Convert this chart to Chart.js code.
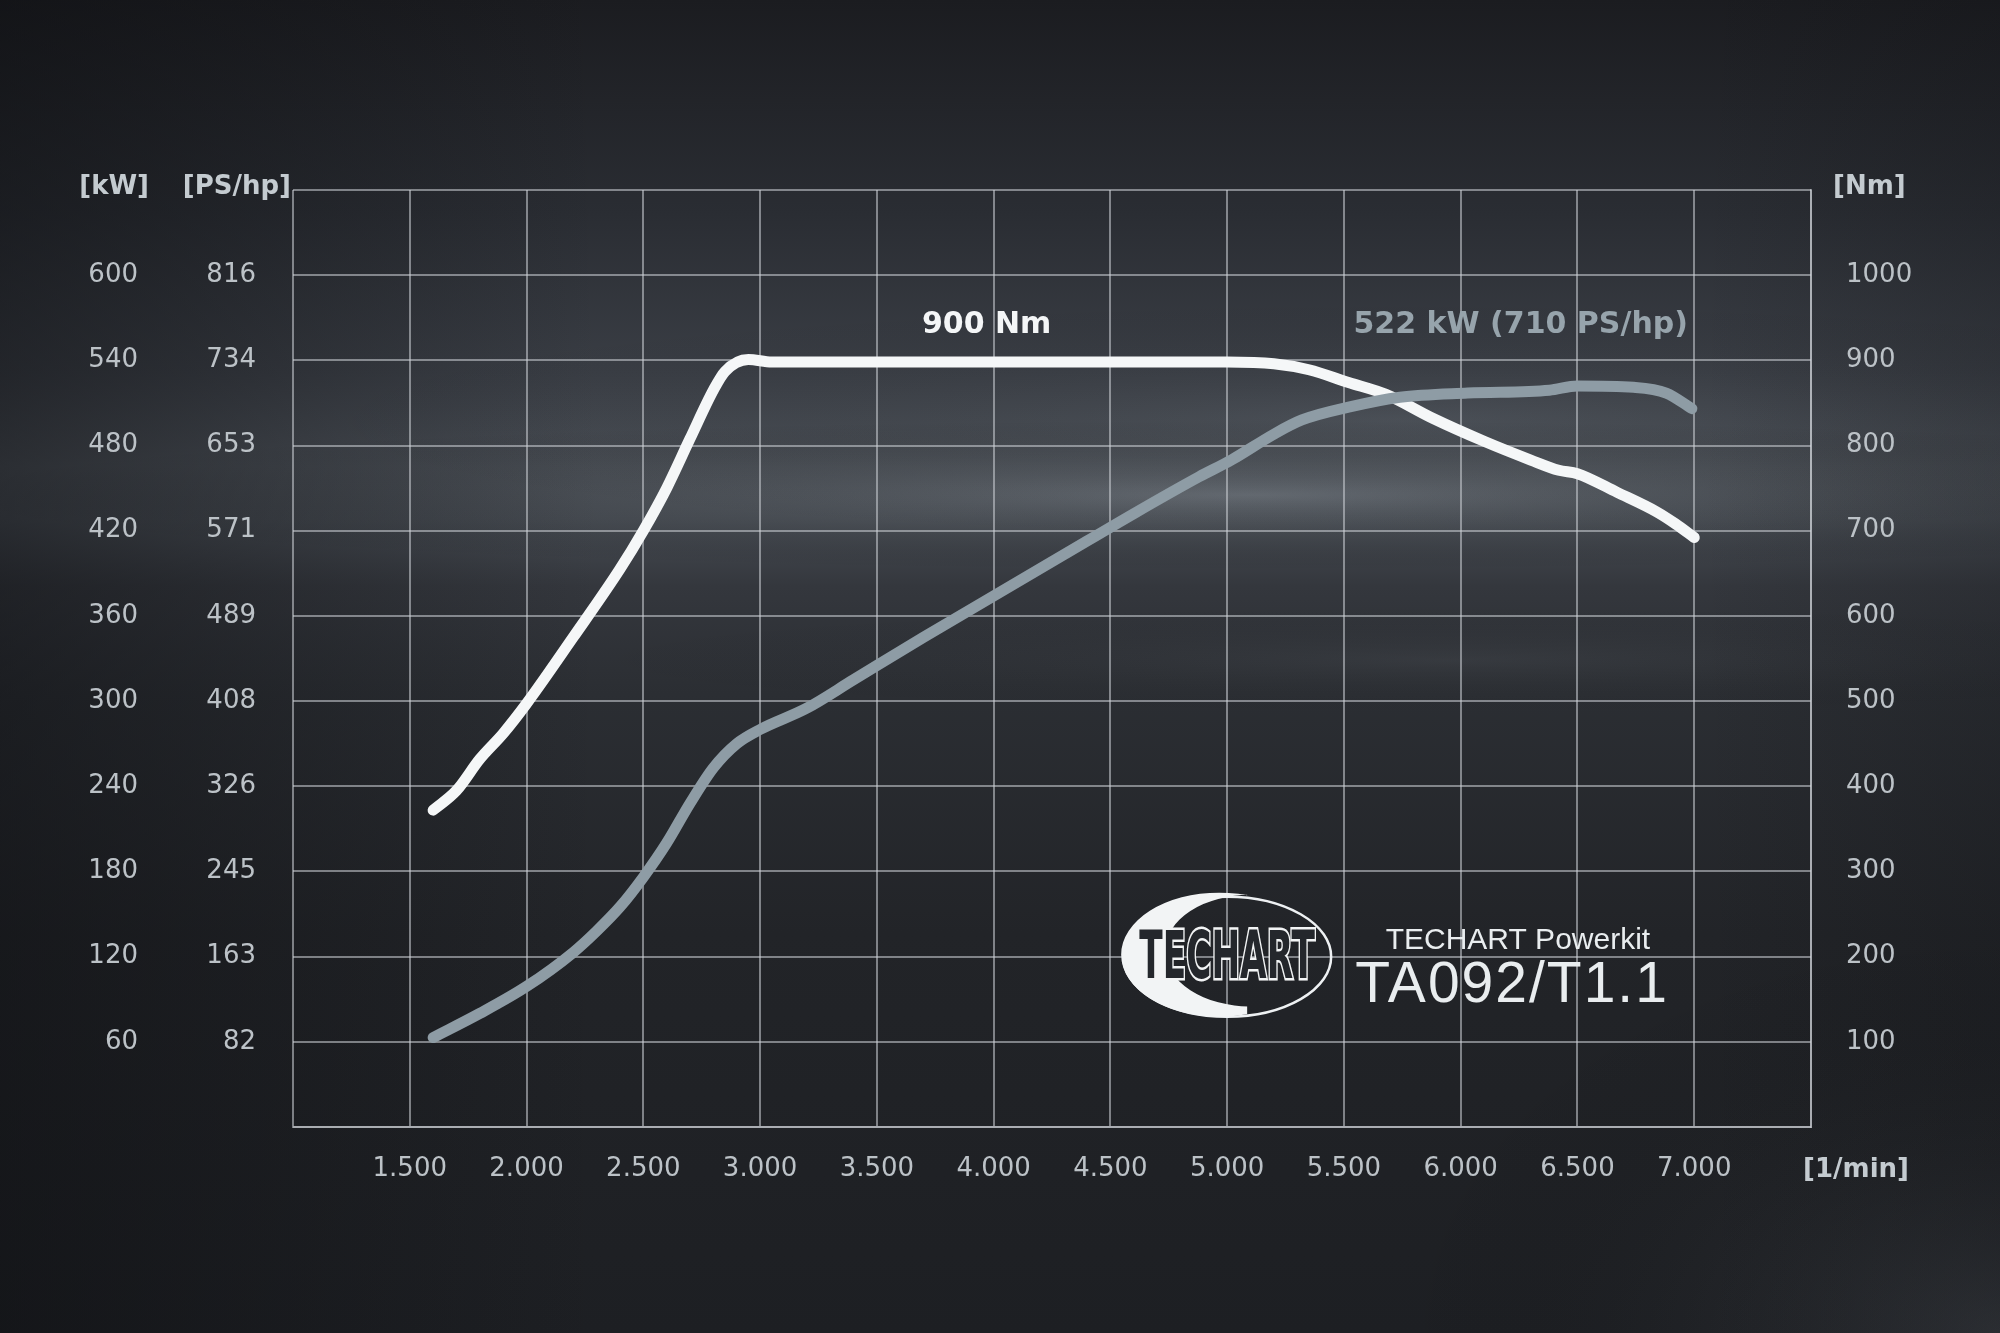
<!DOCTYPE html>
<html>
<head>
<meta charset="utf-8">
<script src="https://cdn.jsdelivr.net/npm/chart.js@4.4.0/dist/chart.umd.min.js"></script>
<style>
  html, body { margin: 0; padding: 0; background: #1e2024; overflow: hidden; }
  canvas { display: block; }
</style>
</head>
<body>
<canvas id="dyno" width="2000" height="1333"></canvas>
<script>
// engine speed [1/min] and torque [Nm]
var torqueRpm = [1600, 1700, 1800, 1900, 2000, 2200, 2400, 2500, 2600, 2700, 2800, 2850, 2950, 3050, 3500, 4000, 4500, 5000, 5200, 5350, 5520, 5680, 5880, 6100, 6300, 6420, 6500, 6670, 6840, 6920, 7000];
var torqueNm = [372, 395, 432, 462, 497, 575, 655, 700, 750, 808, 865, 887, 901, 898, 898, 898, 898, 898, 896, 889, 874, 860, 832, 805, 783, 771, 767, 745, 722, 708, 692];

// engine speed [1/min] and power [kW]
var powerRpm = [1600, 1800, 2000, 2200, 2300, 2400, 2500, 2600, 2700, 2800, 2900, 3000, 3200, 3400, 3700, 4000, 4300, 4600, 4880, 5020, 5200, 5320, 5520, 5740, 6030, 6380, 6500, 6740, 6880, 6990];
var powerKw = [63, 80, 99, 123, 138, 155, 176, 200, 228, 253, 270, 280, 295, 315, 345, 374, 403, 432, 458, 470, 488, 498, 507, 514, 517, 519, 522, 521, 517, 506];

// tick labels
var rpmLabels = ["1.500", "2.000", "2.500", "3.000", "3.500", "4.000", "4.500", "5.000", "5.500", "6.000", "6.500", "7.000"];
var kwLabels = ["60", "120", "180", "240", "300", "360", "420", "480", "540", "600"];
var psLabels = ["82", "163", "245", "326", "408", "489", "571", "653", "734", "816"];
var nmLabels = ["100", "200", "300", "400", "500", "600", "700", "800", "900", "1000"];

var gridColor = "rgba(205,210,215,0.55)";
var tickColor = "#bcc2c7";
var tickFont = { family: "DejaVu Sans", size: 26 };

function pts(xs, ys) {
    return xs.map(function (x, i) { return { x: x, y: ys[i] }; });
}

// soft horizontal streak, drawn as a squashed radial gradient
function streak(ctx, cx, cy, rx, ry, color) {
    ctx.save();
    ctx.translate(cx, cy);
    ctx.scale(1, ry / rx);
    var r = ctx.createRadialGradient(0, 0, 0, 0, 0, rx);
    r.addColorStop(0, color);
    r.addColorStop(1, "rgba(0,0,0,0)");
    ctx.fillStyle = r;
    ctx.fillRect(-rx, -rx, rx * 2, rx * 2);
    ctx.restore();
}

var background = {
    id: "background",
    beforeDraw: function (chart) {
        var ctx = chart.ctx, w = chart.width, h = chart.height;
        ctx.save();
        var g = ctx.createLinearGradient(0, 0, 0, h);
        g.addColorStop(0, "#1b1c20");
        g.addColorStop(0.16, "#2a2d33");
        g.addColorStop(0.28, "#3a3e45");
        g.addColorStop(0.35, "#4a4f56");
        g.addColorStop(0.39, "#464b52");
        g.addColorStop(0.44, "#34373d");
        g.addColorStop(0.52, "#2b2e33");
        g.addColorStop(0.7, "#222428");
        g.addColorStop(1, "#1d1f23");
        ctx.fillStyle = g;
        ctx.fillRect(0, 0, w, h);
        streak(ctx, 1250, 495, 1300, 75, "rgba(150,158,166,0.38)");
        streak(ctx, 1400, 420, 1100, 120, "rgba(120,128,136,0.15)");
        streak(ctx, 1450, 660, 900, 55, "rgba(120,126,132,0.12)");
        streak(ctx, 2000, 1333, 600, 400, "rgba(90,95,102,0.35)");
        var s = ctx.createLinearGradient(0, 0, w, 0);
        s.addColorStop(0, "rgba(12,13,16,0.5)");
        s.addColorStop(0.3, "rgba(12,13,16,0)");
        s.addColorStop(0.85, "rgba(12,13,16,0)");
        s.addColorStop(1, "rgba(12,13,16,0.2)");
        ctx.fillStyle = s;
        ctx.fillRect(0, 0, w, h);
        ctx.restore();
    }
};

var texts = {
    id: "texts",
    afterDraw: function (chart) {
        var ctx = chart.ctx;
        var x = chart.scales.x, nm = chart.scales.nm, kw = chart.scales.kw, ps = chart.scales.ps;
        var area = chart.chartArea;
        ctx.save();
        ctx.textBaseline = "middle";

        // axis titles
        ctx.font = "bold 26px 'DejaVu Sans'";
        ctx.fillStyle = "#c4cbd0";
        ctx.textAlign = "right";
        ctx.fillText("[kW]", kw.right - 1, area.top - 3);
        ctx.fillText("[PS/hp]", ps.right - 2, area.top - 3);
        ctx.textAlign = "left";
        ctx.fillText("[Nm]", nm.left + 22, area.top - 3);
        ctx.textAlign = "center";
        ctx.fillText("[1/min]", area.right + 45, area.bottom + 43);

        // curve labels
        ctx.font = "bold 30px 'DejaVu Sans'";
        ctx.fillStyle = "#f4f6f7";
        ctx.fillText("900 Nm", x.getPixelForValue(3970), nm.getPixelForValue(941));
        ctx.fillStyle = "#97a4ac";
        ctx.fillText("522 kW (710 PS/hp)", x.getPixelForValue(6257), nm.getPixelForValue(941));

        // logo
        var cx = x.getPixelForValue(5000), cy = nm.getPixelForValue(200);
        ctx.strokeStyle = "#eef1f3";
        ctx.lineWidth = 2.5;
        ctx.beginPath();
        ctx.ellipse(cx, cy, 104, 60, 0, 0, Math.PI * 2);
        ctx.stroke();
        ctx.save();
        ctx.beginPath();
        ctx.rect(cx - 130, cy - 80, 150, 160);
        ctx.clip();
        ctx.beginPath();
        ctx.ellipse(cx - 8, cy - 2, 98, 62, 0, 0, Math.PI * 2);
        ctx.ellipse(cx + 24, cy - 6, 86, 56, 0, 0, Math.PI * 2);
        ctx.fillStyle = "#f2f4f5";
        ctx.fill("evenodd");
        ctx.restore();
        ctx.save();
        ctx.translate(cx, cy + 4);
        ctx.scale(0.52, 1);
        ctx.font = "bold 66px 'DejaVu Sans'";
        ctx.lineWidth = 5;
        ctx.strokeStyle = "#f2f4f5";
        ctx.fillStyle = "#24272c";
        ctx.strokeText("TECHART", 0, 0);
        ctx.fillText("TECHART", 0, 0);
        ctx.restore();

        ctx.fillStyle = "#e9edef";
        ctx.font = "30px 'Liberation Sans'";
        ctx.fillText("TECHART Powerkit", x.getPixelForValue(6245), nm.getPixelForValue(219));
        ctx.font = "57px 'Liberation Sans'";
        ctx.letterSpacing = "2px";
        ctx.fillText("TA092/T1.1", x.getPixelForValue(6220), nm.getPixelForValue(165));
        ctx.restore();
    }
};

new Chart("dyno", {
    type: "line",
    data: {
        datasets: [
            {
                label: "Power",
                data: pts(powerRpm, powerKw),
                yAxisID: "kw",
                borderColor: "#8e9ca5",
                borderWidth: 11,
                borderCapStyle: "round",
                borderJoinStyle: "round",
                pointRadius: 0,
                cubicInterpolationMode: "monotone",
            },
            {
                label: "Torque",
                data: pts(torqueRpm, torqueNm),
                yAxisID: "nm",
                borderColor: "#f5f7f8",
                borderWidth: 11,
                borderCapStyle: "round",
                borderJoinStyle: "round",
                pointRadius: 0,
                cubicInterpolationMode: "monotone",
            },
        ],
    },
    options: {
        responsive: false,
        animation: false,
        layout: {
            padding: { top: 190, left: 0, right: 0, bottom: 0 },
        },
        plugins: {
            legend: { display: false },
            tooltip: { enabled: false },
        },
        scales: {
            x: {
                type: "linear",
                min: 1000,
                max: 7500,
                afterFit: function (s) { s.height = 206; },
                ticks: {
                    stepSize: 500,
                    autoSkip: false,
                    maxRotation: 0,
                    padding: 27,
                    color: tickColor,
                    font: tickFont,
                    callback: function (v, i) { return rpmLabels[i - 1] || ""; },
                },
                grid: { color: gridColor, lineWidth: 2, drawTicks: false },
                border: { color: gridColor, width: 2 },
            },
            kw: {
                position: "left",
                weight: 2,
                min: 0,
                max: 660,
                afterFit: function (s) { s.width = 150; },
                ticks: {
                    stepSize: 60,
                    autoSkip: false,
                    padding: 12,
                    color: tickColor,
                    font: tickFont,
                    callback: function (v, i) { return kwLabels[i - 1] || ""; },
                },
                grid: { color: gridColor, lineWidth: 2, drawTicks: false },
                border: { display: false },
            },
            ps: {
                position: "left",
                weight: 1,
                min: 0,
                max: 660,
                afterFit: function (s) { s.width = 143; },
                ticks: {
                    stepSize: 60,
                    autoSkip: false,
                    padding: 37,
                    color: tickColor,
                    font: tickFont,
                    callback: function (v, i) { return psLabels[i - 1] || ""; },
                },
                grid: { display: false, drawTicks: false },
                border: { display: false },
            },
            nm: {
                position: "right",
                min: 0,
                max: 1100,
                afterFit: function (s) { s.width = 189; },
                ticks: {
                    stepSize: 100,
                    autoSkip: false,
                    padding: 35,
                    color: tickColor,
                    font: tickFont,
                    callback: function (v, i) { return nmLabels[i - 1] || ""; },
                },
                grid: { drawOnChartArea: false, drawTicks: false },
                border: { color: gridColor, width: 2 },
            },
        },
    },
    plugins: [background, texts],
});
</script>
</body>
</html>
